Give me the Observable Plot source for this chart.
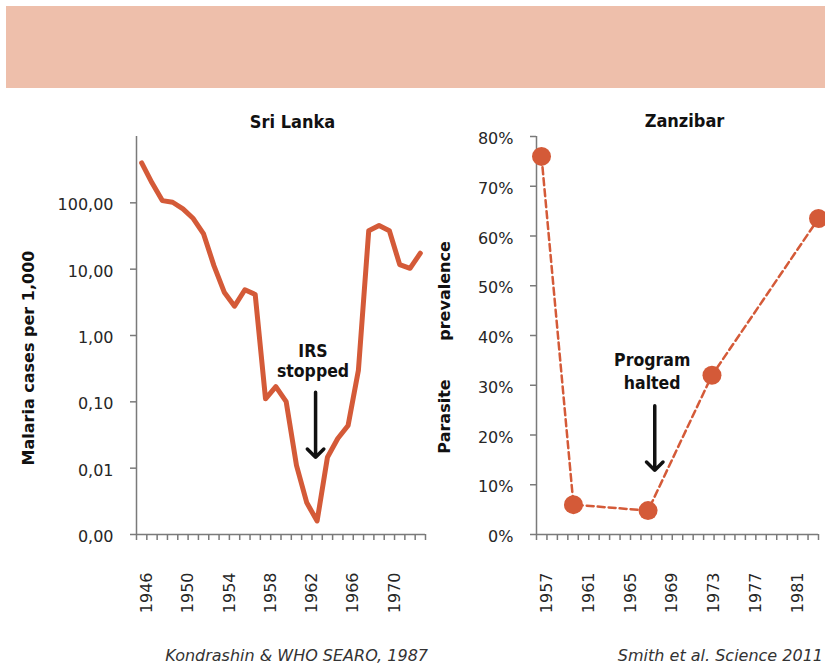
<!DOCTYPE html>
<html><head><meta charset="utf-8">
<script src="https://cdn.jsdelivr.net/npm/d3@7"></script>
<script src="https://cdn.jsdelivr.net/npm/@observablehq/plot@0.6"></script>
<style>
html,body{margin:0;padding:0;background:#fff;}
#page{position:relative;width:825px;height:669px;overflow:hidden;font-family:"DejaVu Sans",sans-serif;}
#band{position:absolute;left:6px;top:6px;width:819px;height:82px;background:#EEBFAB;}
#left{position:absolute;left:0;top:100px;width:430px;height:530px;}
#right{position:absolute;left:430px;top:100px;width:395px;height:530px;}
.cap{position:absolute;top:646px;font-size:16px;line-height:20px;font-style:italic;color:#333;white-space:nowrap;text-align:right;}
</style></head>
<body><div id="page">
<div id="band"></div>
<div id="left"></div><div id="right"></div>
<div class="cap" style="right:397px">Kondrashin &amp; WHO SEARO, 1987</div>
<div class="cap" style="right:2px">Smith et al. Science 2011</div>
</div>
<script>
// ---- Sri Lanka data ----
const slYears = [1946,1947,1948,1949,1950,1951,1952,1953,1954,1955,1956,1957,1958,1959,1960,1961,1962,1963,1964,1965,1966,1967,1968,1969,1970,1971,1972,1973];
const slCases = [400,200,108,102,81,58,34,11.3,4.5,2.77,4.9,4.15,0.111,0.17,0.101,0.011,0.003,0.0016,0.0146,0.028,0.044,0.30,38,45.5,38,11.7,10.3,17.4];
const slTickValues = [0.001,0.01,0.1,1,10,100];
const slTickLabels = ["0,00","0,01","0,10","1,00","10,00","100,00"];
const slYearLabels = [1946,1950,1954,1958,1962,1966,1970];
const slNoteText = ["IRS\nstopped"];
const slNoteYear = [1962.6], slNoteValue = [0.42];
const slArrowYear = [1962.85], slArrowFrom = [0.14], slArrowTo = [0.0146];

// ---- Zanzibar data ----
const zYears = [1957,1960,1967,1973,1983];
const zPrev = [0.760,0.060,0.048,0.320,0.635];
const zTickValues = [0,0.1,0.2,0.3,0.4,0.5,0.6,0.7,0.8];
const zTickLabels = ["0%","10%","20%","30%","40%","50%","60%","70%","80%"];
const zYearLabels = [1957,1961,1965,1969,1973,1977,1981];
const zNoteText = ["Program\nhalted"];
const zNoteYear = [1967.39], zNoteValue = [0.33];
const zArrowYear = [1967.63], zArrowFrom = [0.259], zArrowTo = [0.129];

const C = "#D45A38", AX = "#7a7a7a", TX = "#262626", INK = "#111";
const BOLD = "'DejaVu Sans Condensed', 'DejaVu Sans', sans-serif";
const baseStyle = {fontFamily: "DejaVu Sans", fontSize: "16px", color: TX, background: "transparent", overflow: "visible"};

// ---- Left chart ----
const lDomain = [1945.5, 1973.5];
const lBounds = d3.range(29).map(k => lDomain[0] + k);
const lLabelPos = slYearLabels.map(y => lBounds[y - slYears[0] + 1]);
const lLabelMap = new Map(lLabelPos.map((p, i) => [p, String(slYearLabels[i])]));
const lTickMap = new Map(slTickValues.map((v, i) => [v, slTickLabels[i]]));

const left = Plot.plot({
  width: 430, height: 530,
  marginLeft: 136, marginRight: 5, marginTop: 36, marginBottom: 96,
  style: baseStyle,
  x: {type: "linear", domain: lDomain, axis: null},
  y: {type: "log", domain: [0.001, 1000], axis: null},
  marks: [
    Plot.ruleX([lDomain[0]], {stroke: AX, strokeWidth: 1.5}),
    Plot.ruleY([0.001], {stroke: AX, strokeWidth: 1.5}),
    Plot.axisY(slTickValues, {tickSize: 6, tickFormat: () => "", stroke: AX, strokeWidth: 1.5, label: null}),
    Plot.axisY(slTickValues, {tickSize: 0, tickPadding: 23, tickFormat: d => lTickMap.get(d), fill: TX, dy: 2.5, label: null}),
    Plot.axisX(lBounds, {tickSize: 6, tickFormat: () => "", stroke: AX, strokeWidth: 1.5, label: null}),
    Plot.axisX(lLabelPos, {tickSize: 0, tickPadding: 38, tickRotate: -90, tickFormat: d => lLabelMap.get(d), fill: TX, label: null}),
    Plot.line(slCases, {x: slYears, y: slCases, stroke: C, strokeWidth: 5, strokeLinejoin: "round", strokeLinecap: "round"}),
    Plot.arrow(slArrowYear, {x1: d => d, x2: d => d, y1: slArrowFrom, y2: slArrowTo, stroke: INK, strokeWidth: 3.5, headLength: 5, headAngle: 90}),
    Plot.text(slNoteText, {x: slNoteYear, y: slNoteValue, text: d => d, fontFamily: BOLD, fontWeight: "bold", fontSize: 17.5, lineHeight: 1.15, fill: INK}),
    Plot.text(["Sri Lanka"], {frameAnchor: "top", text: d => d, dx: 11.5, dy: -21.5, fontFamily: BOLD, fontWeight: "bold", fontSize: 18, fill: INK}),
    Plot.text(["Malaria cases per 1,000"], {frameAnchor: "left", textAnchor: "middle", text: d => d, dx: -108, dy: 22.5, rotate: -90, fontWeight: "bold", fontSize: 16, fill: INK})
  ]
});
document.getElementById("left").appendChild(left);

// ---- Right chart ----
const rDomain = [1956.53, 1983];
const rBounds = d3.range(28).map(k => rDomain[0] + k * (rDomain[1] - rDomain[0]) / 27);
const rLabelPos = zYearLabels.map(y => rBounds[y - zYears[0] + 1]);
const rLabelMap = new Map(rLabelPos.map((p, i) => [p, String(zYearLabels[i])]));
const rTickMap = new Map(zTickValues.map((v, i) => [v, zTickLabels[i]]));

const right = Plot.plot({
  width: 395, height: 530,
  marginLeft: 106, marginRight: 7, marginTop: 36, marginBottom: 96,
  style: baseStyle,
  x: {type: "linear", domain: rDomain, axis: null},
  y: {type: "linear", domain: [0, 0.8], axis: null},
  marks: [
    Plot.ruleX([rDomain[0]], {stroke: AX, strokeWidth: 1.5}),
    Plot.ruleY([0], {stroke: AX, strokeWidth: 1.5}),
    Plot.axisY(zTickValues, {tickSize: 6, tickFormat: () => "", stroke: AX, strokeWidth: 1.5, label: null}),
    Plot.axisY(zTickValues, {tickSize: 0, tickPadding: 23, tickFormat: d => rTickMap.get(d), fill: TX, dy: 2.5, label: null}),
    Plot.axisX(rBounds, {tickSize: 6, tickFormat: () => "", stroke: AX, strokeWidth: 1.5, label: null}),
    Plot.axisX(rLabelPos, {tickSize: 0, tickPadding: 38, tickRotate: -90, tickFormat: d => rLabelMap.get(d), fill: TX, label: null}),
    Plot.line(zPrev, {x: zYears, y: zPrev, stroke: C, strokeWidth: 2.5, strokeDasharray: "7,4"}),
    Plot.dot(zPrev, {x: zYears, y: zPrev, r: 9.5, fill: C, stroke: "none"}),
    Plot.arrow(zArrowYear, {x1: d => d, x2: d => d, y1: zArrowFrom, y2: zArrowTo, stroke: INK, strokeWidth: 3.5, headLength: 5, headAngle: 90}),
    Plot.text(zNoteText, {x: zNoteYear, y: zNoteValue, text: d => d, fontFamily: BOLD, fontWeight: "bold", fontSize: 17.5, lineHeight: 1.28, fill: INK}),
    Plot.text(["Zanzibar"], {frameAnchor: "top", text: d => d, dx: 7, dy: -22.5, fontFamily: BOLD, fontWeight: "bold", fontSize: 18, fill: INK}),
    Plot.text(["prevalence"], {frameAnchor: "left", textAnchor: "middle", text: d => d, dx: -91.5, dy: -44.5, rotate: -90, fontWeight: "bold", fontSize: 16, fill: INK}),
    Plot.text(["Parasite"], {frameAnchor: "left", textAnchor: "middle", text: d => d, dx: -91.5, dy: 81, rotate: -90, fontWeight: "bold", fontSize: 16, fill: INK})
  ]
});
document.getElementById("right").appendChild(right);
</script>
</body></html>
